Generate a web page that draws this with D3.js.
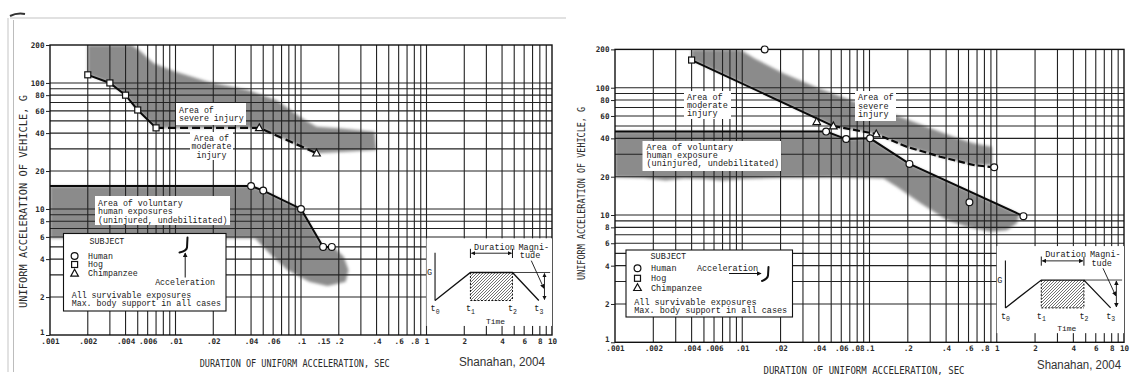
<!DOCTYPE html>
<html><head><meta charset="utf-8">
<script src="https://cdn.jsdelivr.net/npm/d3@7"></script>
<style>body{margin:0;background:#fff}svg{display:block}</style>
</head><body>
<svg id="c" width="1134" height="381"></svg>
<script>
// ---------- data ----------
const xTickLabelsLeft  = [".001",".002",".004",".006",".01",".02",".04",".06",".1",".15",".2",".4",".6",".8","1","2","4","6","8","10"];
const xTickLabelsRight = [".001",".002",".004",".006",".01",".02",".04",".06",".08",".1",".2",".4",".6",".8","1","2","4","6","8","10"];
const yTickLabels = ["200","100","80","60","40","20","10","8","6","4","2","1"];

// left panel
const leftHog = [[0.002,116],[0.003,100],[0.004,80],[0.005,61],[0.007,44]];
const leftChimp = [[0.0465,44],[0.133,27.7]];
const leftHuman = [[0.04,15.2],[0.05,14],[0.1,10],[0.15,5],[0.176,5]];
const leftVoluntaryStart = [[0.001,15.2]];
const leftSevereArea = [[0.002,200],[0.00447,200],[0.0051,183],[0.0067,143],[0.0099,123],[0.0181,102],[0.0376,88],[0.064,73],[0.102,52.5],[0.133,45],[0.199,43.7],[0.386,41],[0.399,29.4],[0.227,28.5],[0.133,27.7],[0.0465,44],[0.007,44],[0.005,61],[0.004,80],[0.003,100],[0.002,116]];
const leftVoluntaryArea = [[0.001,15.2],[0.04,15.2],[0.05,14],[0.1,10],[0.15,5],[0.176,5],[0.186,4.88],[0.219,4.18],[0.239,3.28],[0.227,2.65],[0.163,2.45],[0.116,2.65],[0.078,3.28],[0.056,4.45],[0.043,5.85],[0.001,5.85]];

// right panel
const rightHog = [[0.004,165]];
const rightChimp = [[0.0385,54],[0.052,50],[0.113,43.3]];
const rightHuman = [[0.015,200],[0.0456,45.2],[0.0655,39.5],[0.101,40],[0.206,25.2],[0.61,12.6],[0.955,23.7],[1.62,9.8]];
const rightUpperSolid = [[0.004,165],[0.052,50]];
const rightUpperDashed = [[0.052,50],[0.113,43.3],[0.196,34.4],[0.359,28.7],[0.656,24.7],[0.955,23.7]];
const rightLowerLine = [[0.001,45.2],[0.0456,45.2],[0.0655,39.5],[0.101,40],[0.206,25.2],[1.62,9.8]];
const rightSevereArea = [[0.004,200],[0.0096,200],[0.0125,170],[0.021,130],[0.039,100],[0.077,77.6],[0.159,61],[0.282,49.4],[0.457,41.2],[0.656,36.6],[0.915,34.4],[0.915,24.7],[0.656,24.7],[0.359,28.7],[0.196,34.4],[0.113,43.3],[0.052,50],[0.004,165]];
const rightVoluntaryArea = [[0.001,45.2],[0.0456,45.2],[0.0655,39.5],[0.101,40],[0.206,25.2],[1.62,9.8],[1.51,10.3],[1.44,8.6],[1.2,7.6],[0.888,7.39],[0.582,8.09],[0.405,9.14],[0.25,12.4],[0.164,16.7],[0.129,19.4],[0.05,19.8],[0.02,19.6],[0.01,19.2],[0.007,18.6],[0.005,19.2],[0.0035,19.4],[0.0025,18.7],[0.0017,19.5],[0.001,19.8]];

// ---------- drawing ----------
const svg = d3.select("#c");
svg.append("rect").attr("width",1134).attr("height",381).attr("fill","#fff");
const defs = svg.append("defs");
defs.append("filter").attr("id","soft").attr("x","-5%").attr("y","-5%").attr("width","110%").attr("height","110%")
  .append("feGaussianBlur").attr("stdDeviation",1.6);
const hp = defs.append("pattern").attr("id","hatch").attr("patternUnits","userSpaceOnUse").attr("width",3).attr("height",3);
hp.append("path").attr("d","M-1,1 L1,-1 M0,3 L3,0 M2,4 L4,2").attr("stroke","#333").attr("stroke-width",0.7);
defs.append("marker").attr("id","arr").attr("viewBox","0 0 8 8").attr("refX",7).attr("refY",4)
  .attr("markerWidth",5).attr("markerHeight",5).attr("orient","auto-start-reverse")
  .append("path").attr("d","M0,0 L8,4 L0,8 z").attr("fill","#111");

// page decorations
svg.append("line").attr("x1",10).attr("x2",566).attr("y1",18).attr("y2",18).attr("stroke","#c4c4c4").attr("stroke-width",1.2);
svg.append("line").attr("x1",8).attr("x2",8).attr("y1",18).attr("y2",372).attr("stroke","#e2e2e2").attr("stroke-width",2);
svg.append("line").attr("x1",13.5).attr("x2",13.5).attr("y1",20).attr("y2",372).attr("stroke","#bcbcbc").attr("stroke-width",1);
svg.append("path").attr("d","M10,16 Q17,12.5 25,14").attr("fill","none").attr("stroke","#333").attr("stroke-width",2);

const MONO = "'Liberation Mono', 'DejaVu Sans Mono', monospace";
const TICKF = "'DejaVu Sans Mono', monospace";

const gridX = [];
for (let k=-3;k<=0;k++) for (let m=1;m<=9;m++) gridX.push(+(m*Math.pow(10,k)).toPrecision(2));
gridX.push(10);
const gridY = [];
for (let k=0;k<=1;k++) for (let m=1;m<=9;m++) gridY.push(+(m*Math.pow(10,k)).toPrecision(2));
gridY.push(100,200);

let clipN = 0;
function marker(g, type, px, py) {
  const st = s => s.attr("fill","#fff").attr("stroke","#111").attr("stroke-width",1.2);
  if (type==="circle") st(g.append("circle").attr("cx",px).attr("cy",py).attr("r",3.4));
  else if (type==="square") st(g.append("rect").attr("x",px-3).attr("y",py-3).attr("width",6).attr("height",6));
  else st(g.append("path").attr("d",`M${px},${py-4} L${px+3.8},${py+2.8} L${px-3.8},${py+2.8} Z`));
}
function txt(g, x, y, s, size, anchor, fam) {
  return g.append("text").attr("x",x).attr("y",y).attr("dy","0.35em").attr("font-family",fam||MONO)
    .attr("font-size",size).attr("fill","#1a1a1a").attr("text-anchor",anchor||"start").text(s);
}
function tLabel(g, x, y, sub) {
  const t = g.append("text").attr("x",x).attr("y",y).attr("dy","0.35em").attr("font-family",MONO)
    .attr("font-size",8.5).attr("fill","#1a1a1a").attr("text-anchor","middle");
  t.append("tspan").text("t");
  t.append("tspan").attr("font-size",6.5).attr("dy","2.5").text(sub);
}

function inset(g, x0, y0, x1, y1) {
  const w = x1-x0, h = y1-y0;
  g.append("rect").attr("x",x0).attr("y",y0).attr("width",w).attr("height",h).attr("fill","#fff");
  const ax = x0+0.068*w, base = y0+0.71*h, plat = y0+0.39*h;
  const t1 = x0+0.35*w, t2 = x0+0.685*w, t3 = x0+0.895*w;
  const ln = (a,b,c,d,sw,dash) => { const l=g.append("line").attr("x1",a).attr("y1",b).attr("x2",c).attr("y2",d).attr("stroke","#111").attr("stroke-width",sw||1); if(dash) l.attr("stroke-dasharray",dash); return l; };
  ln(ax, y0+0.165*h, ax, base, 1.1);
  g.append("rect").attr("x",t1).attr("y",plat).attr("width",t2-t1).attr("height",base-plat).attr("fill","url(#hatch)");
  ln(t1,plat,t1,base,1,"2,1.5"); ln(t2,plat,t2,base,1,"2,1.5"); ln(t1,base,t2,base,1,"2,1.5");
  g.append("path").attr("d",`M${ax},${base} L${t1},${plat} L${t2},${plat} L${t3},${base}`).attr("fill","none").attr("stroke","#111").attr("stroke-width",1.3);
  ln(t2, plat, x0+0.985*w, plat, 0.8);
  txt(g, ax-5.5, plat, "G", 8.5, "middle");
  txt(g, (t1+t2)/2+3, y0+0.095*h, "Duration", 8.5, "middle");
  ln(t1, y0+0.12*h, t1, y0+0.225*h, 1); ln(t2, y0+0.12*h, t2, y0+0.225*h, 1);
  ln(t1+1, y0+0.17*h, t2-1, y0+0.17*h, 0.9).attr("marker-start","url(#arr)").attr("marker-end","url(#arr)");
  txt(g, x0+0.733*w, y0+0.095*h, "Magni-", 8.5, "start");
  txt(g, x0+0.825*w, y0+0.19*h, "tude", 8.5, "middle");
  ln(x0+0.835*w, y0+0.255*h, x0+0.935*w, y0+0.57*h, 0.9).attr("marker-end","url(#arr)");
  ln(x0+0.94*w, plat+1, x0+0.94*w, base-1, 0.9).attr("marker-start","url(#arr)").attr("marker-end","url(#arr)");
  tLabel(g, ax, y0+0.8*h, "0"); tLabel(g, t1, y0+0.8*h, "1"); tLabel(g, t2, y0+0.8*h, "2"); tLabel(g, t3, y0+0.8*h, "3");
  txt(g, x0+0.55*w, y0+0.945*h, "Time", 8, "middle");
}

function panel(cfg) {
  const x = d3.scaleLog().domain([0.001,10]).range(cfg.xr);
  const y = d3.scaleLog().domain([1,200]).range(cfg.yr);
  const g = svg.append("g");
  const id = "clip"+(clipN++);
  defs.append("clipPath").attr("id",id).append("rect")
    .attr("x",cfg.xr[0]).attr("y",cfg.yr[1]).attr("width",cfg.xr[1]-cfg.xr[0]).attr("height",cfg.yr[0]-cfg.yr[1]);
  const line = d3.line().x(d=>x(d[0])).y(d=>y(d[1]));

  // shaded regions
  const ga = g.append("g").attr("clip-path",`url(#${id})`);
  cfg.areas.forEach(a => ga.append("path").attr("d", line(a)+"Z").attr("fill","#8b8b8b").attr("filter","url(#soft)"));

  // grid
  const gg = g.append("g").attr("stroke","#222").attr("stroke-width",1.1);
  gridX.slice(1,-1).forEach(v => gg.append("line").attr("x1",x(v)).attr("x2",x(v)).attr("y1",y(200)).attr("y2",y(1)));
  gridY.slice(1,-1).forEach(v => gg.append("line").attr("x1",x(0.001)).attr("x2",x(10)).attr("y1",y(v)).attr("y2",y(v)));
  g.append("rect").attr("x",x(0.001)).attr("y",y(200)).attr("width",x(10)-x(0.001)).attr("height",y(1)-y(200))
    .attr("fill","none").attr("stroke","#111").attr("stroke-width",1.4);

  // boundary lines
  cfg.solid.forEach(l => g.append("path").attr("d",line(l)).attr("fill","none").attr("stroke","#0a0a0a").attr("stroke-width",2));
  cfg.dashed.forEach(l => g.append("path").attr("d",line(l)).attr("fill","none").attr("stroke","#0a0a0a").attr("stroke-width",2.2).attr("stroke-dasharray",cfg.dash));

  // area labels
  cfg.labels.forEach(L => {
    g.append("rect").attr("x",L.box[0]).attr("y",L.box[1]).attr("width",L.box[2]-L.box[0]).attr("height",L.box[3]-L.box[1]).attr("fill","#fff");
    L.lines.forEach((s,i) => txt(g, L.tx, L.ys[i], s, cfg.fs, L.anchor));
  });

  // legend
  const Lg = cfg.legend;
  g.append("rect").attr("x",Lg.box[0]).attr("y",Lg.box[1]).attr("width",Lg.box[2]-Lg.box[0]).attr("height",Lg.box[3]-Lg.box[1])
    .attr("fill","#fff").attr("stroke","#111").attr("stroke-width",1.1);
  txt(g, Lg.subject[0], Lg.subject[1], "SUBJECT", cfg.fs);
  [["circle","Human"],["square","Hog"],["triangle","Chimpanzee"]].forEach((s,i) => {
    marker(g, s[0], Lg.symX, Lg.rows[i]);
    txt(g, Lg.textX, Lg.rows[i], s[1], cfg.fs);
  });
  txt(g, Lg.noteX, Lg.noteY[0], "All survivable exposures", cfg.fs);
  txt(g, Lg.noteX, Lg.noteY[1], "Max. body support in all cases", cfg.fs);
  txt(g, Lg.accel[0], Lg.accel[1], "Acceleration", cfg.fs, "middle");
  g.append("line").attr("x1",Lg.arrow[0]).attr("y1",Lg.arrow[1]).attr("x2",Lg.arrow[2]).attr("y2",Lg.arrow[3])
    .attr("stroke","#111").attr("stroke-width",1).attr("marker-end","url(#arr)");
  g.append("path").attr("d",Lg.seat).attr("fill","none").attr("stroke","#111").attr("stroke-width",2).attr("stroke-linecap","round");

  // inset
  inset(g, x(1), y(cfg.insetTop), x(10), y(1.18));

  // markers
  cfg.marks.forEach(m => m.data.forEach(d => marker(g, m.type, x(d[0]), y(d[1]))));

  // axes
  const xa = g.append("g").attr("transform",`translate(0,${cfg.yr[0]})`)
    .call(d3.axisBottom(x).tickValues(cfg.xLabels.map(Number)).tickFormat((d,i)=>cfg.xLabels[i]).tickSize(0).tickPadding(3.5));
  const ya = g.append("g").attr("transform",`translate(${cfg.xr[0]},0)`)
    .call(d3.axisLeft(y).tickValues(yTickLabels.map(Number)).tickFormat((d,i)=>yTickLabels[i]).tickSize(4).tickPadding(1.5));
  [xa,ya].forEach(a => {
    a.select(".domain").remove();
    a.selectAll("text").attr("font-family",TICKF).attr("font-size",7.6).attr("font-weight","bold").attr("fill","#2a2a2a");
    a.selectAll("line").attr("stroke","#222");
  });
  // lift the bottom "1" slightly so it clears the ".001" below it
  ya.selectAll(".tick").filter(d => d === 1).select("text").attr("dy","-0.05em");

  // titles
  const T = cfg.titles;
  g.append("text").attr("transform",`translate(${T.y[0]},${T.y[1]}) rotate(-90)`).attr("text-anchor","middle").attr("dy","0.35em")
    .attr("font-family",TICKF).attr("font-size",10).attr("fill","#2a2a2a")
    .attr("textLength",T.y[2]).attr("lengthAdjust","spacingAndGlyphs").text("UNIFORM ACCELERATION OF VEHICLE, G");
  g.append("text").attr("x",T.x[0]).attr("y",T.x[1]).attr("text-anchor","middle").attr("dy","0.35em")
    .attr("font-family",TICKF).attr("font-size",10).attr("fill","#2a2a2a")
    .attr("textLength",T.x[2]).attr("lengthAdjust","spacingAndGlyphs").text("DURATION OF UNIFORM ACCELERATION, SEC");
  g.append("text").attr("x",T.c[0]).attr("y",T.c[1]).attr("text-anchor","middle").attr("dy","0.35em")
    .attr("font-family","'Liberation Sans', Arial, sans-serif").attr("font-size",12.5).attr("fill","#333")
    .attr("textLength",T.c[2]).attr("lengthAdjust","spacingAndGlyphs").text("Shanahan, 2004");
}

panel({
  xr:[50,552], yr:[335,45], xLabels:xTickLabelsLeft, fs:8.3, dash:"8,4", insetTop:5.85,
  areas:[leftSevereArea, leftVoluntaryArea],
  solid:[leftHog, leftVoluntaryStart.concat(leftHuman)],
  dashed:[[leftHog[leftHog.length-1]].concat(leftChimp)],
  marks:[{type:"square",data:leftHog},{type:"triangle",data:leftChimp},{type:"circle",data:leftHuman}],
  labels:[
    {box:[176,103,246,125], tx:179, lines:["Area of","severe injury"], ys:[110,118.5], anchor:"start"},
    {box:[190,132,233,160], tx:211.5, lines:["Area of","moderate","injury"], ys:[137.7,146.2,154.7], anchor:"middle"},
    {box:[95,196,230,225], tx:98, lines:["Area of voluntary","human exposures","(uninjured, undebilitated)"], ys:[203,211.3,219.6], anchor:"start"}
  ],
  legend:{box:[63.5,233.5,226,311], subject:[89.5,241], symX:74.6, textX:88, rows:[256,264.5,273.3],
    noteX:71.7, noteY:[295,303.3], accel:[185,282.3], arrow:[185.2,277.5,185.2,253],
    seat:"M187.5,237.5 L187,247.5 Q186.5,251 179.5,252.5"},
  titles:{y:[23,201.5,213], x:[294.7,363,190], c:[502,362,86]}
});

panel({
  xr:[615,1124], yr:[342.3,49.4], xLabels:xTickLabelsRight, fs:8.5, dash:"7,3", insetTop:5.7,
  areas:[rightSevereArea, rightVoluntaryArea],
  solid:[rightUpperSolid, rightLowerLine],
  dashed:[rightUpperDashed],
  marks:[{type:"square",data:rightHog},{type:"triangle",data:rightChimp},{type:"circle",data:rightHuman}],
  labels:[
    {box:[684,91,731,119], tx:687, lines:["Area of","moderate","injury"], ys:[96.7,105,113.3], anchor:"start"},
    {box:[855,91,896,121], tx:858, lines:["Area of","severe","injury"], ys:[97.3,105.7,114], anchor:"start"},
    {box:[642.5,141,781,171], tx:646.5, lines:["Area of voluntary","human exposure","(uninjured, undebilitated)"], ys:[146.7,155,163.3], anchor:"start"}
  ],
  legend:{box:[626,250,792.5,317], subject:[650.5,255.7], symX:637.5, textX:651, rows:[268.3,278.3,287.7],
    noteX:634.2, noteY:[301.7,310], accel:[727.5,268.3], arrow:[729,273.5,761,273.5],
    seat:"M768.5,267 L768,275.5 Q767.5,279 762,281"},
  titles:{y:[581,193.4,173], x:[864,370,201], c:[1079,365,84]}
});
</script>
</body></html>
